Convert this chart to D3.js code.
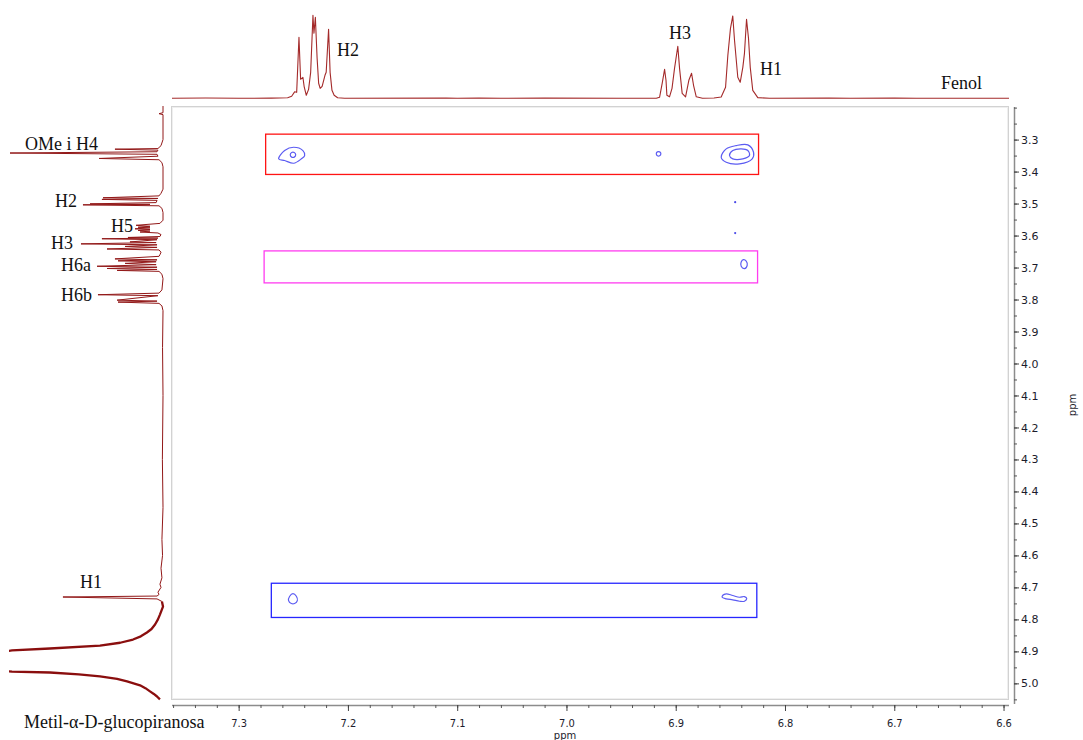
<!DOCTYPE html>
<html>
<head>
<meta charset="utf-8">
<script src="https://cdn.jsdelivr.net/npm/d3@7/dist/d3.min.js"></script>
<style>
  html, body { margin: 0; padding: 0; background: #fff; }
  svg { display: block; }
</style>
</head>
<body>
<svg id="chart" width="1083" height="740"></svg>
<script>
// ---- Axis ticks (ppm) ----
const xTicks = [7.3, 7.2, 7.1, 7.0, 6.9, 6.8, 6.7, 6.6];
const yTicks = [3.3, 3.4, 3.5, 3.6, 3.7, 3.8, 3.9, 4.0, 4.1, 4.2, 4.3, 4.4, 4.5, 4.6, 4.7, 4.8, 4.9, 5.0];

// ---- 1D projection along F2 (fenol): [ppm, relative intensity] ----
const fenolTrace = [
  [7.361, 0], [7.330, 0.3], [7.300, 0], [7.270, 0.2], [7.2552, 0.6], [7.2515, 2.4],
  [7.2488, 7.8], [7.2469, 7.2], [7.2448, 73.5], [7.2433, 22.9], [7.2412, 25.3],
  [7.2401, 14.5], [7.2381, 3.6], [7.2360, 10.8], [7.2341, 31.3], [7.2320, 100],
  [7.2311, 78.3], [7.2298, 97.6], [7.2282, 48.2], [7.2268, 18.1], [7.2254, 12],
  [7.2236, 14.5], [7.2210, 27.7], [7.2199, 31.3], [7.2177, 83.1], [7.2163, 31.3],
  [7.2146, 9.6], [7.2126, 3.6], [7.2094, 0.6], [7.2030, 0], [7.110, 0.4],
  [7.100, 0], [7.080, 0.3], [7.060, 0], [7.020, 0.2], [6.950, 0], [6.9178, 0],
  [6.9148, 1.2], [6.9124, 18.1], [6.9102, 34.9], [6.9089, 21.7], [6.9081, 3.6],
  [6.9057, 1.8], [6.9034, 12], [6.9011, 36.1], [6.8981, 62.7], [6.8965, 36.1],
  [6.8941, 6], [6.8910, 1.8], [6.8880, 21.7], [6.8855, 30.1], [6.8837, 15.7],
  [6.8812, 1.8], [6.8755, 0], [6.8650, 0.3], [6.8584, 1.6], [6.8544, 13.3],
  [6.8523, 51.8], [6.8499, 84.3], [6.8478, 99.2], [6.8462, 69.9], [6.8432, 25.3],
  [6.8410, 19.3], [6.8386, 37.3], [6.8371, 54.2], [6.8352, 95.2], [6.8334, 72.3],
  [6.8318, 37.3], [6.8295, 9.6], [6.8249, 0.8], [6.8142, 0], [6.760, 0.2],
  [6.740, 0], [6.700, 0.2], [6.680, 0], [6.595, 0]
];

// ---- 1D projection along F1 (metil-α-D-glucopiranosa): [ppm, relative intensity] ----
const glucoTrace = [
  [3.195, 0], [3.216, 0], [3.219, 2.6], [3.222, 0], [3.300, 0], [3.319, 1.3],
  [3.328, 3.3], [3.330, 31.4], [3.333, 3.3], [3.338, 3.9], [3.342, 100],
  [3.346, 3.9], [3.352, 3.3], [3.359, 41.8], [3.363, 2.6], [3.372, 0.7],
  [3.385, 0], [3.455, 0], [3.468, 1.3], [3.476, 2.6], [3.482, 39.2], [3.484, 3.3],
  [3.487, 39.9], [3.490, 3.9], [3.497, 4.5], [3.501, 47.7], [3.5025, 8.5],
  [3.504, 52.3], [3.507, 2.6], [3.515, 0.7], [3.528, 0], [3.552, 0], [3.562, 2],
  [3.568, 17.6], [3.571, 8.5], [3.574, 16.3], [3.576, 8.5], [3.579, 18.3],
  [3.581, 8.5], [3.584, 16.3], [3.586, 8.5], [3.589, 15], [3.592, 3.3],
  [3.597, 1.3], [3.603, 2], [3.606, 22.9], [3.608, 3.3], [3.610, 39.9],
  [3.613, 3.9], [3.620, 21.6], [3.622, 4.5], [3.626, 53.6], [3.629, 3.9],
  [3.634, 24.8], [3.637, 3.9], [3.642, 36.6], [3.645, 2.6], [3.652, 1.3],
  [3.660, 2], [3.665, 2.6], [3.673, 31.4], [3.676, 3.9], [3.679, 29.4],
  [3.682, 4.5], [3.687, 24.8], [3.691, 4.5], [3.696, 43.1], [3.699, 3.9],
  [3.703, 36.6], [3.706, 3.9], [3.709, 30], [3.712, 2.6], [3.721, 0.7],
  [3.735, 0], [3.770, 0.7], [3.780, 2.6], [3.785, 42.5], [3.788, 3.3],
  [3.802, 30], [3.805, 3.9], [3.808, 29.4], [3.812, 2.6], [3.820, 0.7],
  [3.835, 0], [3.950, 0.3], [4.100, 0], [4.300, 0.4], [4.450, 0], [4.550, 0.7],
  [4.600, 0.3], [4.640, 1.3], [4.670, 0.7], [4.690, 2], [4.700, 1.3],
  [4.715, 3.3], [4.722, 2.6], [4.727, 3.9], [4.730, 65.4], [4.736, 3.9],
  [4.744, 0.7]
];

// Broad residual water signal (HDO), clipped at the left edge
const waterTrace = [
  [4.744, 0.7], [4.760, 0], [4.785, 2], [4.800, 3.3], [4.816, 5.2], [4.830, 7.5],
  [4.841, 10.5], [4.853, 14.5], [4.863, 19.6], [4.873, 28], [4.882, 41.2],
  [4.891, 73.9], [4.897, 98.7], [4.928, 150], [4.960, 106.5], [4.963, 98.7],
  [4.966, 73.9], [4.972, 55], [4.978, 41.2], [4.986, 30], [4.994, 23.5],
  [5.006, 15], [5.015, 11.5], [5.025, 8.5], [5.033, 6], [5.041, 3.9], [5.050, 2]
];

// ---- Cross-peak contours: [F2 ppm, F1 ppm] ----
const contours = [
  // OMe / H4 row
  [[7.2634, 3.3602], [7.2579, 3.3343], [7.2497, 3.3240], [7.2412, 3.3343], [7.2396, 3.3499], [7.2426, 3.3602], [7.2497, 3.3739], [7.2579, 3.3655]],
  [[7.2528, 3.3477], [7.2515, 3.3405], [7.2491, 3.3405], [7.2478, 3.3477], [7.2491, 3.3549], [7.2515, 3.3549]],
  [[6.9178, 3.3446], [6.9168, 3.3384], [6.9147, 3.3384], [6.9136, 3.3446], [6.9147, 3.3508], [6.9168, 3.3508]],
  [[6.8584, 3.3552], [6.8538, 3.3290], [6.8447, 3.3187], [6.8340, 3.3165], [6.8288, 3.3396], [6.8300, 3.3602], [6.8416, 3.3758], [6.8538, 3.3708]],
  [[6.8508, 3.3499], [6.8478, 3.3343], [6.8401, 3.3290], [6.8340, 3.3343], [6.8325, 3.3499], [6.8386, 3.3602], [6.8478, 3.3602]],
  // H6a row
  [[6.8401, 3.6827], [6.8380, 3.6752], [6.8355, 3.6796], [6.8346, 3.6930], [6.8371, 3.7033], [6.8401, 3.6961]],
  // H1 row
  [[7.2503, 4.7192], [7.2472, 4.7276], [7.2463, 4.7411], [7.2488, 4.7504], [7.2518, 4.7504], [7.2543, 4.7411], [7.2533, 4.7276]],
  [[6.8569, 4.7245], [6.8538, 4.7201], [6.8478, 4.7254], [6.8416, 4.7308], [6.8371, 4.7286], [6.8350, 4.7348], [6.8371, 4.7432], [6.8416, 4.7432], [6.8478, 4.7389], [6.8538, 4.7357], [6.8575, 4.7308]]
];
// Weak single-level peaks
const weakPeaks = [[6.8456, 3.4956], [6.8456, 3.5923]];

// ---- Highlight boxes: [F2 from, F2 to, F1 from, F1 to] ----
const boxRanges = [
  [7.2753, 6.8242, 3.283, 3.409],
  [7.2767, 6.8251, 3.648, 3.748],
  [7.2701, 6.8258, 4.687, 4.794]
];
const boxColors = ["#ff1414", "#ff3cf0", "#2626ff"];

// ---- Assignment labels ----
const topLabels = [
  { text: "H2", px: 337, py: 56 },
  { text: "H3", px: 669, py: 39 },
  { text: "H1", px: 760, py: 75 },
  { text: "Fenol", px: 941, py: 89 }
];
const leftLabels = [
  { text: "OMe i H4", px: 25, py: 150 },
  { text: "H2", px: 55, py: 207 },
  { text: "H5", px: 111, py: 232 },
  { text: "H3", px: 51, py: 249 },
  { text: "H6a", px: 61, py: 271 },
  { text: "H6b", px: 61, py: 301 },
  { text: "H1", px: 80, py: 588 },
  { text: "Metil-α-D-glucopiranosa", px: 24, py: 728 }
];

// ================= drawing =================
const svg = d3.select("#chart");

const x = d3.scaleLinear().domain([7.361, 6.595]).range([172, 1009]);
const y = d3.scaleLinear().domain([3.195, 5.052]).range([106, 700]);
const topI = d3.scaleLinear().domain([0, 100]).range([98.3, 15.3]);
const leftI = d3.scaleLinear().domain([0, 100]).range([163, 10]);

// clip for the F1 projection
svg.append("defs").append("clipPath").attr("id", "leftClip")
  .append("rect").attr("x", 9).attr("y", 100).attr("width", 160).attr("height", 605);

// plot frame
svg.append("rect")
  .attr("x", 171.5).attr("y", 106.5)
  .attr("width", 837).attr("height", 593)
  .attr("fill", "none").attr("stroke", "#d2d2d2").attr("stroke-width", 1);
svg.append("rect")
  .attr("x", 172.5).attr("y", 107.5)
  .attr("width", 835).attr("height", 591)
  .attr("fill", "none").attr("stroke", "#efefef").attr("stroke-width", 1);

// top projection
svg.append("path")
  .datum(fenolTrace)
  .attr("d", d3.line().x(d => x(d[0])).y(d => topI(d[1])))
  .attr("fill", "none").attr("stroke", "#a42a2a").attr("stroke-width", 1.1)
  .attr("stroke-linejoin", "round");

// left projection
const leftG = svg.append("g").attr("clip-path", "url(#leftClip)");
const vLine = d3.line().x(d => leftI(d[1])).y(d => y(d[0]));
leftG.append("path")
  .datum(glucoTrace)
  .attr("d", vLine)
  .attr("fill", "none").attr("stroke", "#921818").attr("stroke-width", 1)
  .attr("stroke-linejoin", "round");
leftG.append("path")
  .datum(waterTrace)
  .attr("d", vLine)
  .attr("fill", "none").attr("stroke", "#8a0e0e").attr("stroke-width", 2.3)
  .attr("stroke-linejoin", "round");

// highlight boxes
svg.append("g").selectAll("rect")
  .data(boxRanges)
  .join("rect")
  .attr("x", d => x(d[0]))
  .attr("y", d => y(d[2]))
  .attr("width", d => x(d[1]) - x(d[0]))
  .attr("height", d => y(d[3]) - y(d[2]))
  .attr("fill", "none")
  .attr("stroke", (d, i) => boxColors[i])
  .attr("stroke-width", 1.3);

// contours
const cLine = d3.line().x(d => x(d[0])).y(d => y(d[1])).curve(d3.curveCatmullRomClosed.alpha(0.5));
svg.append("g").selectAll("path")
  .data(contours)
  .join("path")
  .attr("d", cLine)
  .attr("fill", "none").attr("stroke", "#5c5cf2").attr("stroke-width", 1.2);
svg.append("g").selectAll("circle")
  .data(weakPeaks)
  .join("circle")
  .attr("cx", d => x(d[0])).attr("cy", d => y(d[1]))
  .attr("r", 1.1).attr("fill", "#4a4ae8");

// bottom axis (F2)
const axisColor = "#8c8c8c";
const bottomY = 705;
const minorX = d3.range(7.36, 6.59, -0.02);
const gxMinor = svg.append("g").attr("transform", `translate(0,${bottomY})`)
  .call(d3.axisBottom(x).tickValues(minorX).tickSize(3).tickFormat(""));
gxMinor.select(".domain").attr("stroke", axisColor).attr("stroke-width", 1.5)
  .attr("d", `M172,0.5H1009`);
gxMinor.selectAll(".tick line").attr("stroke", "#555");
const gx = svg.append("g").attr("transform", `translate(0,${bottomY})`)
  .call(d3.axisBottom(x).tickValues(xTicks).tickSize(6).tickPadding(8).tickFormat(d3.format(".1f")));
gx.select(".domain").remove();
gx.selectAll(".tick line").attr("stroke", "#444");
gx.selectAll(".tick text")
  .attr("font-family", "'DejaVu Sans Condensed', 'DejaVu Sans', sans-serif")
  .attr("font-size", 11).attr("fill", "#1c1c2c");
svg.append("text").text("ppm")
  .attr("x", 565).attr("y", 739).attr("text-anchor", "middle")
  .attr("font-family", "'DejaVu Sans', sans-serif").attr("font-size", 10).attr("fill", "#1c1c2c");

// right axis (F1)
const rightX = 1014;
const minorY = d3.range(3.2, 5.06, 0.05);
const gyMinor = svg.append("g").attr("transform", `translate(${rightX},0)`)
  .call(d3.axisRight(y).tickValues(minorY).tickSize(3).tickFormat(""));
gyMinor.select(".domain").attr("stroke", axisColor).attr("stroke-width", 1.5)
  .attr("d", `M0.5,107V704`);
gyMinor.selectAll(".tick line").attr("stroke", "#555");
const gy = svg.append("g").attr("transform", `translate(${rightX},0)`)
  .call(d3.axisRight(y).tickValues(yTicks).tickSize(5).tickPadding(2).tickFormat(d3.format(".1f")));
gy.select(".domain").remove();
gy.selectAll(".tick line").attr("stroke", "#444");
gy.selectAll(".tick text")
  .attr("font-family", "'DejaVu Sans', sans-serif")
  .attr("font-size", 11).attr("fill", "#1c1c2c");
svg.append("text").text("ppm")
  .attr("transform", "translate(1076,405) rotate(-90)")
  .attr("text-anchor", "middle")
  .attr("font-family", "'DejaVu Sans', sans-serif").attr("font-size", 10).attr("fill", "#1c1c2c");

// labels
const serif = "'Liberation Serif', 'Times New Roman', serif";
svg.append("g").selectAll("text")
  .data(topLabels.concat(leftLabels))
  .join("text")
  .text(d => d.text)
  .attr("x", d => d.px).attr("y", d => d.py)
  .attr("font-family", serif).attr("font-size", 18).attr("fill", "#111");
</script>
</body>
</html>
